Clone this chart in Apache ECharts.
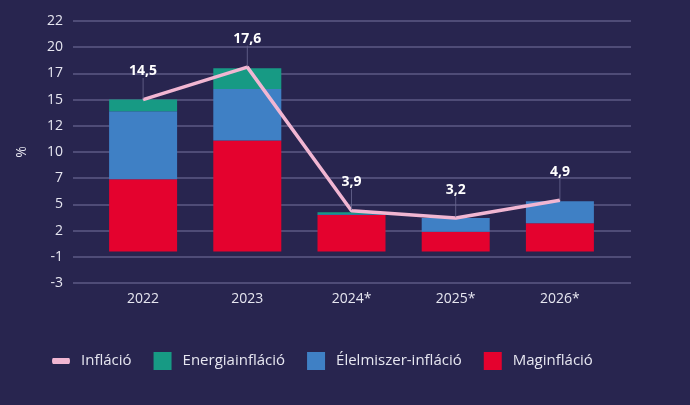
<!DOCTYPE html>
<html>
<head>
<meta charset="utf-8">
<script src="https://cdn.jsdelivr.net/npm/echarts@6/dist/echarts.min.js"></script>
<style>
html,body{margin:0;padding:0;background:#28254f;}
#c{width:690px;height:405px;}
</style>
</head>
<body>
<div id="c"></div>
<script>
const categories = ['2022', '2023', '2024*', '2025*', '2026*'];
const inflation = [14.5, 17.6, 3.9, 3.2, 4.9];
const core = [6.9, 10.6, 3.5, 1.9, 2.7];
const food = [6.5, 4.9, 0.05, 1.3, 2.1];
const energy = [1.1, 2.0, 0.2, 0, 0];
const yMin = -3, yMax = 22, yStep = 2.5;

const txt = '#e6e6f0';
const font = 'Open Sans';
const chart = echarts.init(document.getElementById('c'));
function roundLabel(v){ const r = Math.sign(v) * Math.round(Math.abs(v)); return String(r === 0 ? 0 : r); }
const lineIcon = 'path://M0,0 L0,0 M1,6 L17,6 Q18,6 18,9 Q18,12 17,12 L1,12 Q0,12 0,9 Q0,6 1,6 Z M18,18 L18,18';
chart.setOption({
  backgroundColor: '#28254f',
  animation: false,
  textStyle: { fontFamily: font },
  grid: [
    { left: 73, right: 59, top: 21, height: 262, containLabel: false },
    { left: 91, width: 521, top: 21, height: 262, containLabel: false }
  ],
  xAxis: [
    { gridIndex: 0, type: 'value', show: false, min: 0, max: 1 },
    { gridIndex: 1, type: 'category', data: categories,
      axisLine: { show: false }, axisTick: { show: false },
      axisLabel: { color: txt, fontSize: 14, fontFamily: font, margin: 9 } }
  ],
  yAxis: [
    { gridIndex: 0, type: 'value', min: yMin, max: yMax, interval: yStep,
      name: '%', nameLocation: 'middle', nameGap: 44, nameRotate: 90,
      nameTextStyle: { color: txt, fontSize: 14, fontFamily: font },
      axisLine: { show: false }, axisTick: { show: false },
      axisLabel: { color: txt, fontSize: 14, fontFamily: font, margin: 10, formatter: roundLabel },
      splitLine: { lineStyle: { color: '#5c5a85', width: 1.5 } } },
    { gridIndex: 1, type: 'value', min: yMin, max: yMax, interval: yStep, show: false,
      splitLine: { show: false } }
  ],
  legend: {
    left: 47, top: 347, itemWidth: 18, itemHeight: 18, itemGap: 22,
    textStyle: { color: txt, fontSize: 15, fontFamily: font, padding: [0, 0, 0, 6] },
    data: [
      { name: 'Infláció', icon: lineIcon, itemStyle: { color: '#f1b6d2' }, lineStyle: { opacity: 0, width: 0 } },
      { name: 'Energiainfláció', icon: 'rect' },
      { name: 'Élelmiszer-infláció', icon: 'rect' },
      { name: 'Maginfláció', icon: 'rect' }
    ]
  },
  series: [
    { name: 'Maginfláció', type: 'bar', stack: 's', xAxisIndex: 1, yAxisIndex: 1,
      data: core, barWidth: 68, itemStyle: { color: '#e4022e' } },
    { name: 'Élelmiszer-infláció', type: 'bar', stack: 's', xAxisIndex: 1, yAxisIndex: 1,
      data: food, itemStyle: { color: '#3f80c5' } },
    { name: 'Energiainfláció', type: 'bar', stack: 's', xAxisIndex: 1, yAxisIndex: 1,
      data: energy, itemStyle: { color: '#179a84' } },
    { name: 'Infláció', type: 'line', xAxisIndex: 1, yAxisIndex: 1, data: inflation,
      symbol: 'circle', symbolSize: 1, showSymbol: true, z: 5,
      lineStyle: { color: '#f1b6d2', width: 3.5 }, itemStyle: { color: '#f1b6d2' },
      label: { show: true, position: 'top', distance: 5, color: '#ffffff', fontWeight: 'bold',
        fontSize: 14, fontFamily: font, formatter: p => p.value.toFixed(1).replace('.', ',') },
      labelLayout: { dy: -16 },
      labelLine: { show: true, lineStyle: { color: '#6a6890', width: 0.8 } }
    }
  ]
});
</script>
</body>
</html>
